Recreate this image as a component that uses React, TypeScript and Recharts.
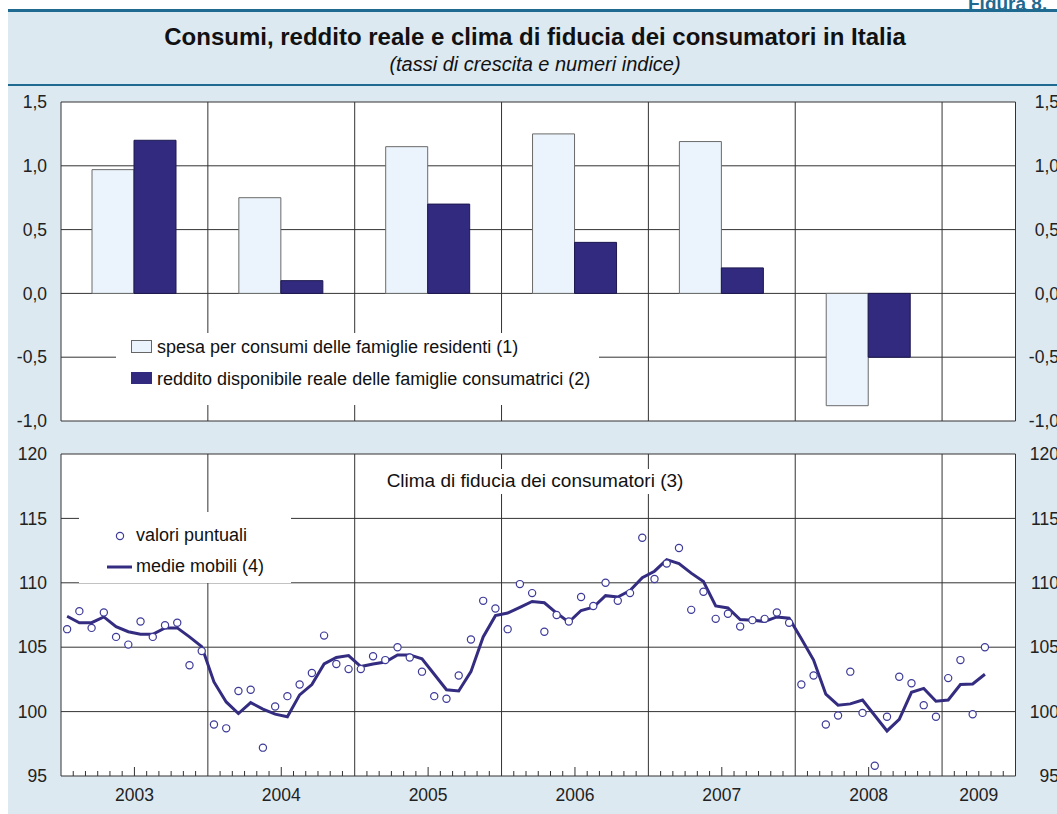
import { Bar, BarChart, CartesianGrid, ComposedChart, Legend, Line, ReferenceLine, XAxis, YAxis } from 'recharts'

const years = ['2003', '2004', '2005', '2006', '2007', '2008', '2009']
const monthsShown = 78 // gen 2003 - giu 2009

// tassi di crescita annui
const spesa = [0.97, 0.75, 1.15, 1.25, 1.19, -0.88]
const reddito = [1.2, 0.1, 0.7, 0.4, 0.2, -0.5]
const barTicks = [-1, -0.5, 0, 0.5, 1, 1.5]

// clima di fiducia, mensile da gen 2003
const puntuali = [
  106.4, 107.8, 106.5, 107.7, 105.8, 105.2, 107.0, 105.8, 106.7, 106.9, 103.6, 104.7,
  99.0, 98.7, 101.6, 101.7, 97.2, 100.4, 101.2, 102.1, 103.0, 105.9, 103.7, 103.3,
  103.3, 104.3, 104.0, 105.0, 104.2, 103.1, 101.2, 101.0, 102.8, 105.6, 108.6, 108.0,
  106.4, 109.9, 109.2, 106.2, 107.5, 107.0, 108.9, 108.2, 110.0, 108.6, 109.2, 113.5,
  110.3, 111.5, 112.7, 107.9, 109.3, 107.2, 107.6, 106.6, 107.1, 107.2, 107.7, 106.9,
  102.1, 102.8, 99.0, 99.7, 103.1, 99.9, 95.8, 99.6, 102.7, 102.2, 100.5, 99.6,
  102.6, 104.0, 99.8, 105.0,
]
const medie = [
  107.4, 106.9, 106.9, 107.35, 106.6, 106.2, 106.0, 106.0, 106.5, 106.5, 105.8, 105.05,
  102.3, 100.75, 99.85, 100.7, 100.2, 99.8, 99.6, 101.3, 102.1, 103.7, 104.2, 104.35,
  103.5, 103.7, 103.85, 104.4, 104.4, 104.1, 102.9, 101.7, 101.6, 103.1, 105.8, 107.45,
  107.65, 108.1, 108.55, 108.45, 107.65, 106.95, 107.85, 108.1, 109.0, 108.9, 109.4, 110.4,
  110.9, 111.8, 111.5, 110.75, 110.1, 108.2, 108.05, 107.15, 107.1, 107.0, 107.35, 107.25,
  105.65, 104.0, 101.35, 100.5, 100.6, 100.9, 99.7, 98.5, 99.4, 101.5, 101.8, 100.8,
  100.9, 102.1, 102.15, 102.9,
]
const fiduciaTicks = [95, 100, 105, 110, 115, 120]

const FONT = '"Liberation Sans", Arial, Helvetica, sans-serif'
const BLUE_BG = '#dde9f1'
const TEAL = '#1f6a91'
const LIGHT_BAR = '#ebf4fc'
const DARK_BAR = '#322a7e'
const LINE_COL = '#332c80'
const DOT_COL = '#3d3a98'
const GRID = '#333'
const RIGHT_LABEL_END = 1059

const barData = spesa.map((v, i) => ({ x: i * 12 + 6, spesa: v, reddito: reddito[i] }))
const fiduciaData = puntuali.map((v, i) => ({ x: i + 0.5, puntuali: v, medie: medie[i] }))
const yearLines = [...years.map((_, i) => i * 12), monthsShown]
const monthTicks = Array.from({ length: monthsShown - 1 }, (_, i) => i + 1)

const yearLabels = years.map((y, i) => {
  const start = i * 12
  const end = Math.min(start + 12, monthsShown)
  return { year: y, at: (start + end) / 2, full: end - start === 12 }
})

const fmtComma = (v: number) => v.toFixed(1).replace('.', ',')

// etichette ripetute a sinistra e a destra del grafico
const bothSidesTick = (fmt: (v: number) => string) => (props: any) => {
  const label = fmt(props.payload.value)
  const common = { y: props.y, dy: '0.355em', textAnchor: 'end' as const, fontSize: 17.5, fill: '#222', fontFamily: FONT }
  return (
    <g>
      <text x={props.x} {...common}>{label}</text>
      <text x={RIGHT_LABEL_END} {...common}>{label}</text>
    </g>
  )
}

const MonthTick = (props: any) => {
  const { x, y, payload } = props
  const v = payload.value
  if (v % 12 === 0) return <g />
  const lab = yearLabels.find(l => l.at === v)
  const tall = lab && lab.full
  return (
    <g>
      <line x1={x} x2={x} y1={y} y2={y - (tall ? 9 : 5)} stroke={GRID} strokeWidth={1} />
      {lab && (
        <text x={x} y={y + 25} textAnchor="middle" fontSize={17.5} fill="#222" fontFamily={FONT}>
          {lab.year}
        </text>
      )}
    </g>
  )
}

const legendText = { fontSize: 18, color: '#111', fontFamily: FONT, position: 'absolute' as const, whiteSpace: 'nowrap' as const, lineHeight: '20px' }

const TopLegend = () => (
  <div style={{ position: 'absolute', left: 116, top: 243, width: 483, height: 72, background: '#fff' }}>
    <div style={{ position: 'absolute', left: 15, top: 7, width: 19, height: 11, background: LIGHT_BAR, border: '1px solid #666' }} />
    <div style={{ ...legendText, left: 41, top: 4 }}>spesa per consumi delle famiglie residenti (1)</div>
    <div style={{ position: 'absolute', left: 15, top: 39, width: 21, height: 12, background: DARK_BAR }} />
    <div style={{ ...legendText, left: 41, top: 36 }}>reddito disponibile reale delle famiglie consumatrici (2)</div>
  </div>
)

const BottomLegend = () => (
  <>
    <div style={{ position: 'absolute', left: 378, top: 29, width: 314, height: 25, background: '#fff' }}>
      <div style={{ ...legendText, fontSize: 19, left: 0, width: 314, textAlign: 'center', top: 2 }}>
        Clima di fiducia dei consumatori (3)
      </div>
    </div>
    <div style={{ position: 'absolute', left: 79, top: 72, width: 212, height: 71, background: '#fff' }}>
      <svg style={{ position: 'absolute', left: 0, top: 0 }} width={60} height={71}>
        <circle cx={41} cy={24} r={3.6} fill="#fff" stroke={DOT_COL} strokeWidth={1.2} />
        <line x1={28} x2={53} y1={55} y2={55} stroke={LINE_COL} strokeWidth={3} />
      </svg>
      <div style={{ ...legendText, left: 57, top: 13 }}>valori puntuali</div>
      <div style={{ ...legendText, left: 57, top: 44 }}>medie mobili (4)</div>
    </div>
  </>
)

export default function App() {
  return (
    <div style={{ position: 'absolute', left: 0, top: 0, width: 1057, height: 814, overflow: 'hidden', fontFamily: FONT, background: '#fff' }}>
      <div style={{ position: 'absolute', left: 968, top: -6, fontSize: 19, fontWeight: 'bold', color: TEAL, lineHeight: '19px', whiteSpace: 'nowrap' }}>
        Figura 8.
      </div>
      <div style={{ position: 'absolute', left: 8, top: 9, right: 0, bottom: 0, background: BLUE_BG }} />
      <div style={{ position: 'absolute', left: 8, top: 9, right: 0, height: 3, background: TEAL }} />
      <div style={{ position: 'absolute', left: 8, top: 84, right: 0, height: 2, background: TEAL }} />
      <div style={{ position: 'absolute', left: 8, width: 1054, top: 23, textAlign: 'center', fontSize: 24, fontWeight: 'bold', color: '#111', lineHeight: '28px' }}>
        Consumi, reddito reale e clima di fiducia dei consumatori in Italia
      </div>
      <div style={{ position: 'absolute', left: 8, width: 1054, top: 52, textAlign: 'center', fontSize: 20, fontStyle: 'italic', color: '#111', lineHeight: '24px' }}>
        (tassi di crescita e numeri indice)
      </div>

      <div style={{ position: 'absolute', left: 0, top: 90 }}>
        <BarChart width={1080} height={340} data={barData} barGap={0} margin={{ top: 12, right: 64.5, bottom: 9, left: 0 }}>
          <CartesianGrid vertical={false} stroke={GRID} fill="#fff" />
          <XAxis type="number" dataKey="x" domain={[0, monthsShown]} hide />
          <YAxis domain={[-1, 1.5]} ticks={barTicks} width={61} tickSize={0} tickMargin={14} axisLine={false} tickLine={false} tick={bothSidesTick(fmtComma)} interval={0} />
          {yearLines.map(x => (
            <ReferenceLine key={x} x={x} stroke={GRID} strokeWidth={1} />
          ))}
          <Bar dataKey="spesa" name="spesa per consumi delle famiglie residenti (1)" fill={LIGHT_BAR} stroke="#6a6a6a" strokeWidth={1} barSize={42} isAnimationActive={false} />
          <Bar dataKey="reddito" name="reddito disponibile reale delle famiglie consumatrici (2)" fill={DARK_BAR} stroke="#1c1850" strokeWidth={1} barSize={42} isAnimationActive={false} />
          <Legend content={TopLegend} wrapperStyle={{ left: 0, top: 0, width: 0, height: 0 }} />
        </BarChart>
      </div>

      <div style={{ position: 'absolute', left: 0, top: 440 }}>
        <ComposedChart width={1080} height={374} data={fiduciaData} margin={{ top: 14, right: 64.5, bottom: 8, left: 0 }}>
          <CartesianGrid vertical={false} stroke={GRID} fill="#fff" />
          <XAxis type="number" dataKey="x" domain={[0, monthsShown]} ticks={monthTicks} interval={0} height={30} tickSize={0} tickMargin={0} axisLine={false} tickLine={false} tick={MonthTick} />
          <YAxis domain={[95, 120]} ticks={fiduciaTicks} width={61} tickSize={0} tickMargin={14} axisLine={false} tickLine={false} tick={bothSidesTick(v => String(v))} interval={0} />
          {yearLines.map(x => (
            <ReferenceLine key={x} x={x} stroke={GRID} strokeWidth={1} />
          ))}
          <Line dataKey="medie" name="medie mobili (4)" stroke={LINE_COL} strokeWidth={3} dot={false} isAnimationActive={false} />
          <Line dataKey="puntuali" name="valori puntuali" stroke="none" dot={{ r: 3.6, fill: '#fff', stroke: DOT_COL, strokeWidth: 1.2 }} isAnimationActive={false} />
          <Legend content={BottomLegend} wrapperStyle={{ left: 0, top: 0, width: 0, height: 0 }} />
        </ComposedChart>
      </div>
    </div>
  )
}
